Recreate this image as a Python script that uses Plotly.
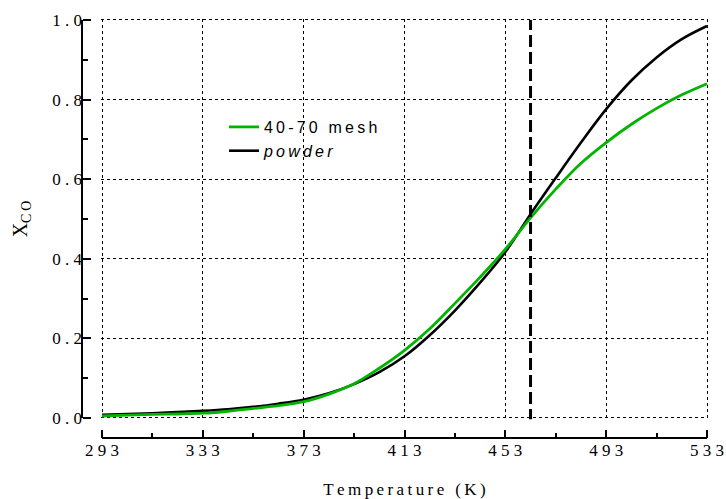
import plotly.graph_objects as go

# ---- data ----
temperature = [293, 303, 313, 323, 333, 343, 353, 363, 373, 383, 393, 403, 413,
               423, 433, 443, 453, 463, 473, 483, 493, 503, 513, 523, 533]
x_co_mesh = [0.005, 0.007, 0.009, 0.010, 0.012, 0.017, 0.024, 0.031, 0.041, 0.060,
             0.086, 0.125, 0.170, 0.224, 0.288, 0.354, 0.424, 0.503, 0.575, 0.640,
             0.692, 0.738, 0.778, 0.812, 0.840]
x_co_powder = [0.008, 0.010, 0.012, 0.015, 0.018, 0.022, 0.028, 0.036, 0.046, 0.062,
               0.085, 0.115, 0.155, 0.208, 0.270, 0.340, 0.417, 0.512, 0.603, 0.692,
               0.776, 0.848, 0.906, 0.952, 0.985]
series_names = ["40-70 mesh", "powder"]
marker_temperature = 463
x_ticks = [293, 333, 373, 413, 453, 493, 533]
x_minor = [313, 353, 393, 433, 473, 513]
y_ticks = [0.0, 0.2, 0.4, 0.6, 0.8, 1.0]
y_minor = [0.1, 0.3, 0.5, 0.7, 0.9]
x_title = "Temperature (K)"

# ---- layout geometry (pixels) ----
W, H = 726, 499
L, R, T, B = 82, 15, 18, 61
pw, ph = W - L - R, H - T - B
px_x0, px_x1 = 102, 707     # pixel columns of first / last x tick
px_y0, px_y1 = 418, 20      # pixel rows of first / last y tick
pad_x, pad_y = 0.4, 0.003   # tiny padding so edge gridlines are drawn

sx = (px_x1 - px_x0) / (x_ticks[-1] - x_ticks[0])
sy = (px_y0 - px_y1) / (y_ticks[-1] - y_ticks[0])
x_rng = [x_ticks[0] - pad_x, x_ticks[-1] + pad_x]
y_rng = [y_ticks[0] - pad_y, y_ticks[-1] + pad_y]
x_dom = [(px_x0 - pad_x * sx - L) / pw, (px_x1 + pad_x * sx - L) / pw]
y_dom = [(H - B - (px_y0 + pad_y * sy)) / ph, (H - B - (px_y1 - pad_y * sy)) / ph]
# data value of paper bottom (where the offset x axis sits)
y_bottom = y_rng[0] - (y_rng[1] - y_rng[0]) * y_dom[0] / (y_dom[1] - y_dom[0])


def spaced(s, sep="\u2009"):
    return sep.join(s)


serif = "Liberation Serif"
sans = "Liberation Sans"
green = "#00b400"

fig = go.Figure()
fig.add_trace(go.Scatter(x=temperature, y=x_co_powder, mode="lines",
                         name="<i>" + spaced(series_names[1]) + "</i>", legendrank=2,
                         line=dict(color="black", width=2.6, shape="spline")))
fig.add_trace(go.Scatter(x=temperature, y=x_co_mesh, mode="lines",
                         name=spaced(series_names[0]), legendrank=1,
                         line=dict(color=green, width=2.8, shape="spline")))
# invisible trace to host the offset axes
fig.add_trace(go.Scatter(x=[x_ticks[0]], y=[y_ticks[0]], xaxis="x2", yaxis="y2",
                         mode="markers", marker=dict(opacity=0), showlegend=False,
                         hoverinfo="skip"))

fig.add_shape(type="line", xref="x", yref="y", x0=marker_temperature, x1=marker_temperature,
              y0=y_bottom, y1=y_ticks[-1], line=dict(color="black", width=3, dash="12px,5px"))

grid = dict(showgrid=True, gridcolor="black", gridwidth=1, griddash="dot",
            zeroline=False, showline=False, ticks="", showticklabels=False,
            automargin=False)

fig.update_layout(
    width=W, height=H,
    margin=dict(l=L, r=R, t=T, b=B),
    plot_bgcolor="white", paper_bgcolor="white",
    font=dict(family=serif, size=17, color="black"),
    xaxis=dict(domain=x_dom, range=x_rng, tickmode="array", tickvals=x_ticks, **grid),
    yaxis=dict(domain=y_dom, range=y_rng, tickmode="array", tickvals=y_ticks, **grid),
    xaxis2=dict(domain=x_dom, range=x_rng, overlaying="x", anchor="free", position=0,
                side="bottom", showgrid=False, zeroline=False, automargin=False,
                showline=False,
                ticks="inside", ticklen=8, tickwidth=2, tickcolor="black",
                tickmode="array", tickvals=x_ticks,
                ticktext=[spaced(str(v), " ") for v in x_ticks],
                minor=dict(tickvals=x_minor, ticks="inside", ticklen=5, tickwidth=2,
                           tickcolor="black"),
                tickfont=dict(family=serif, size=17),
                title=dict(text=spaced(x_title), font=dict(family=serif, size=17),
                           standoff=24)),
    yaxis2=dict(domain=y_dom, range=y_rng, overlaying="y", anchor="free", position=0,
                side="left", showgrid=False, zeroline=False, automargin=False,
                showline=False,
                ticks="inside", ticklen=8, tickwidth=2, tickcolor="black",
                tickmode="array", tickvals=y_ticks,
                ticktext=[spaced(f"{v:.1f}", " ") for v in y_ticks],
                minor=dict(tickvals=y_minor, ticks="inside", ticklen=5, tickwidth=2,
                           tickcolor="black"),
                tickfont=dict(family=serif, size=17),
                title=dict(text="X<sub>C\u2009O</sub>", font=dict(family=serif, size=20),
                           standoff=18)),
    legend=dict(x=(224 - L) / pw, y=(H - B - 110) / ph, xanchor="left", yanchor="top",
                bgcolor="rgba(255,255,255,0)", borderwidth=0,
                font=dict(family=sans, size=16)),
    showlegend=True,
)

# offset axis lines spanning only the tick range
fig.add_shape(type="line", xref="x", yref="paper", x0=x_ticks[0], x1=x_ticks[-1],
              y0=0, y1=0, line=dict(color="black", width=2))
fig.add_shape(type="line", xref="paper", yref="y", x0=0, x1=0,
              y0=y_ticks[0], y1=y_ticks[-1], line=dict(color="black", width=2))

fig.write_html("out.html")
